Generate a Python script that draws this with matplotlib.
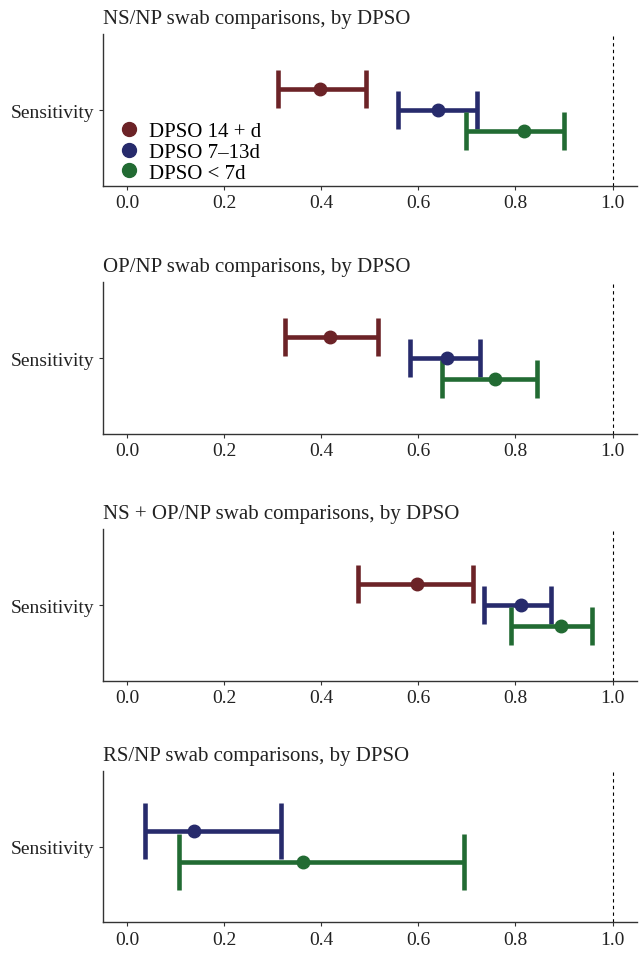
import matplotlib
matplotlib.use("Agg")
import matplotlib.pyplot as plt
from matplotlib.lines import Line2D
import numpy as np

plt.rcParams['font.family'] = ['Liberation Serif', 'DejaVu Serif']

# panel titles
titles = [
    'NS/NP swab comparisons, by DPSO',
    'OP/NP swab comparisons, by DPSO',
    'NS + OP/NP swab comparisons, by DPSO',
    'RS/NP swab comparisons, by DPSO',
]

groups = ['DPSO 14 + d', 'DPSO 7–13d', 'DPSO < 7d']
group_colors = ['#6C2327', '#272B6C', '#226B33']

# sensitivity estimates and 95% CI (None = group not present)
ns_est = [0.398, 0.641, 0.817]
ns_lo = [0.310, 0.557, 0.699]
ns_hi = [0.492, 0.720, 0.901]

op_est = [0.418, 0.659, 0.758]
op_lo = [0.324, 0.583, 0.649]
op_hi = [0.517, 0.727, 0.845]

nsop_est = [0.597, 0.812, 0.893]
nsop_lo = [0.475, 0.736, 0.791]
nsop_hi = [0.713, 0.874, 0.957]

rs_est = [None, 0.138, 0.362]
rs_lo = [None, 0.037, 0.107]
rs_hi = [None, 0.316, 0.693]

panel_data = [
    (ns_est, ns_lo, ns_hi),
    (op_est, op_lo, op_hi),
    (nsop_est, nsop_lo, nsop_hi),
    (rs_est, rs_lo, rs_hi),
]

fig = plt.figure(figsize=(6.4, 9.54), dpi=100)
fig.patch.set_facecolor('white')

# axes boxes (left, bottom, width, height) in figure fractions
bottoms = [0.804, 0.544, 0.285, 0.032]
left, width, height = 0.161, 0.834, 0.159

dodge = 0.5

for i, (title, (est, lo, hi)) in enumerate(zip(titles, panel_data)):
    ax = fig.add_axes([left, bottoms[i], width, height])
    present = [g for g in range(len(groups)) if est[g] is not None]
    n = len(present)
    # ggplot-like dodge: first group on top
    offsets = [dodge / n * (0.5 * (n - 1) - k) for k in range(n)]
    cap_half_px = 112 / n / 2
    capsize = cap_half_px * 72 / 100
    for k, g in enumerate(present):
        y = 1 + offsets[k]
        ax.errorbar([est[g]], [y], xerr=[[est[g] - lo[g]], [hi[g] - est[g]]],
                    fmt='o', color=group_colors[g], ecolor=group_colors[g],
                    elinewidth=3.3, capsize=capsize, capthick=3.3, markersize=9)

    ax.axvline(1.0, color='black', linestyle=(0, (3, 3)), linewidth=0.8)
    ax.set_xlim(-0.05, 1.05)
    ax.set_ylim(0.4, 1.6)
    ax.set_yticks([1])
    ax.set_yticklabels(['Sensitivity'])
    ax.set_xticks([0.0, 0.2, 0.4, 0.6, 0.8, 1.0])
    ax.set_xticklabels(['0.0', '0.2', '0.4', '0.6', '0.8', '1.0'])
    ax.tick_params(axis='both', labelsize=14, colors='#333333', length=3,
                   width=0.8, labelcolor='#222222')
    ax.tick_params(axis='x', pad=3)
    for s in ['top', 'right']:
        ax.spines[s].set_visible(False)
    for s in ['left', 'bottom']:
        ax.spines[s].set_color('#333333')
        ax.spines[s].set_linewidth(1.0)
    ax.set_title(title, loc='left', fontsize=15, pad=8, color='#222222')

    if i == 0:
        handles = [Line2D([], [], marker='o', linestyle='none', color=c,
                          markersize=10) for c in group_colors]
        ax.legend(handles, groups, loc='lower left', bbox_to_anchor=(0.005, -0.06),
                  frameon=False, fontsize=15, handlelength=1.0,
                  handletextpad=0.5, labelspacing=0.05, borderaxespad=0.2)

plt.savefig('out.png', dpi=100)
